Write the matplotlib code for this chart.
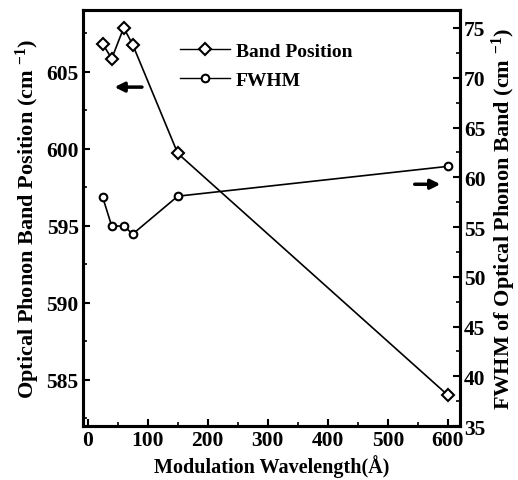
import matplotlib
matplotlib.use("Agg")
import matplotlib.pyplot as plt
from matplotlib.ticker import MultipleLocator
from matplotlib.lines import Line2D

plt.rcParams['font.family'] = ['Liberation Serif', 'DejaVu Serif']
plt.rcParams['font.weight'] = 'bold'
plt.rcParams['mathtext.default'] = 'regular'

# data
wavelength = [25, 40, 60, 75, 150, 600]
band_position = [606.8, 605.85, 607.85, 606.75, 599.7, 584.0]
fwhm = [58.0, 55.1, 55.1, 54.3, 58.1, 61.1]

fig = plt.figure(figsize=(5.18, 4.81), dpi=100)
ax = fig.add_axes([0.160, 0.112, 0.728, 0.865])
ax2 = ax.twinx()

mk_band = dict(marker='D', ms=6, mfc='white', mec='black', mew=1.5)
mk_fwhm = dict(marker='o', ms=5.5, mfc='white', mec='black', mew=1.5)

ax.plot(wavelength, band_position, color='black', lw=1.2, **mk_band)
ax2.plot(wavelength, fwhm, color='black', lw=1.2, **mk_fwhm)

ax.set_xlim(-8, 620)
ax.set_ylim(582, 609)
ax2.set_ylim(35, 76.8)

ax.xaxis.set_major_locator(MultipleLocator(100))
ax.xaxis.set_minor_locator(MultipleLocator(50))
ax.yaxis.set_major_locator(MultipleLocator(5))
ax.yaxis.set_minor_locator(MultipleLocator(2.5))
ax2.yaxis.set_major_locator(MultipleLocator(5))
ax2.yaxis.set_minor_locator(MultipleLocator(2.5))

for a in (ax, ax2):
    a.tick_params(which='major', direction='in', length=5, width=1.5,
                  labelsize=15.5, pad=3)
    a.tick_params(which='minor', direction='in', length=3, width=1.2)
    for s in a.spines.values():
        s.set_linewidth(2.2)
ax.tick_params(axis='y', which='both', right=False)
ax.tick_params(axis='x', which='both', top=False)
ax2.tick_params(axis='y', which='both', left=False)

ax.set_xlabel('Modulation Wavelength(\u00c5)', fontsize=14.5,
              fontweight='bold', labelpad=3)
ax.set_ylabel('Optical Phonon Band Position (cm $^{-1}$)', fontsize=16,
              fontweight='bold', labelpad=3)
ax2.set_ylabel('FWHM of Optical Phonon Band (cm $^{-1}$)', fontsize=16,
               fontweight='bold', labelpad=3)

handles = [
    Line2D([], [], color='black', lw=1, **mk_band),
    Line2D([], [], color='black', lw=1, **mk_fwhm),
]
ax.legend(handles, ['Band Position', 'FWHM'], loc='upper left',
          bbox_to_anchor=(0.21, 0.965), frameon=False, fontsize=14,
          handlelength=2.6, handletextpad=0.3, labelspacing=0.6)

# arrows pointing at the corresponding axis
ax.annotate('', xy=(40, 604.0), xytext=(95, 604.0),
            arrowprops=dict(arrowstyle='-|>', color='black', lw=2.5,
                            mutation_scale=14))
ax2.annotate('', xy=(592, 59.3), xytext=(540, 59.3),
             arrowprops=dict(arrowstyle='-|>', color='black', lw=2.5,
                             mutation_scale=14))

fig.savefig('out.png', dpi=100)
